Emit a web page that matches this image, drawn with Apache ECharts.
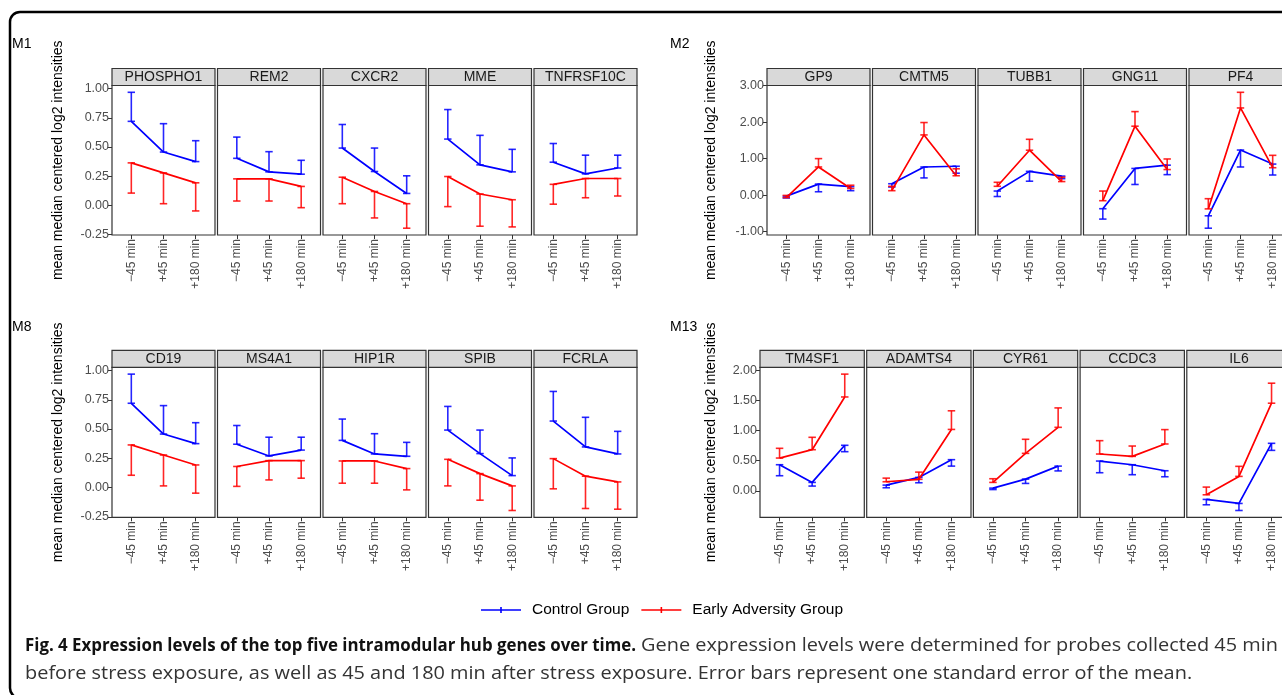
<!DOCTYPE html>
<html><head><meta charset="utf-8">
<script src="https://cdn.jsdelivr.net/npm/echarts@6/dist/echarts.min.js"></script>
<style>
html,body{margin:0;padding:0;background:#fff;}
#wrap{position:relative;width:1282px;height:695px;overflow:hidden;background:#fff;}
#chart{position:absolute;left:0;top:0;width:1282px;height:695px;}
.cap{position:absolute;white-space:nowrap;font-family:'Open Sans',sans-serif;font-size:18px;line-height:18px;color:#333;transform-origin:0 0;}
</style></head>
<body><div id="wrap"><div id="chart"></div>
<div id="c1b" class="cap" style="font-weight:bold;color:#111;">Fig. 4 Expression levels of the top five intramodular hub genes over time.</div>
<div id="c1r" class="cap">Gene expression levels were determined for probes collected 45 min</div>
<div id="c2" class="cap">before stress exposure, as well as 45 and 180 min after stress exposure. Error bars represent one standard error of the mean.</div>
</div>
<script>
// ---------- data ----------
const timeLabels = ['\u221245 min', '+45 min', '+180 min'];
const groupNames = ['Control Group', 'Early Adversity Group'];

const M1_genes = ['PHOSPHO1', 'REM2', 'CXCR2', 'MME', 'TNFRSF10C'];
const M1_controlMean   = [[0.72, 0.457, 0.375], [0.403, 0.287, 0.267], [0.491, 0.29, 0.102], [0.568, 0.347, 0.287], [0.37, 0.27, 0.32]];
const M1_controlEnd    = [[0.969, 0.70, 0.554], [0.585, 0.46, 0.386], [0.693, 0.491, 0.253], [0.821, 0.60, 0.48], [0.53, 0.43, 0.43]];
const M1_adversityMean = [[0.364, 0.278, 0.193], [0.227, 0.227, 0.162], [0.241, 0.119, 0.014], [0.247, 0.097, 0.048], [0.18, 0.23, 0.23]];
const M1_adversityEnd  = [[0.105, 0.014, -0.048], [0.037, 0.037, -0.02], [0.014, -0.108, -0.196], [-0.011, -0.179, -0.185], [0.01, 0.065, 0.08]];
const M1_ticks = [-0.25, 0, 0.25, 0.5, 0.75, 1];

const M2_genes = ['GP9', 'CMTM5', 'TUBB1', 'GNG11', 'PF4'];
const M2_controlMean   = [[-0.03, 0.30, 0.23], [0.31, 0.77, 0.79], [0.11, 0.65, 0.52], [-0.375, 0.73, 0.82], [-0.57, 1.235, 0.85]];
const M2_controlEnd    = [[-0.08, 0.09, 0.12], [0.22, 0.47, 0.60], [-0.04, 0.38, 0.45], [-0.66, 0.29, 0.56], [-0.91, 0.77, 0.55]];
const M2_adversityMean = [[-0.07, 0.77, 0.18], [0.12, 1.65, 0.53], [0.24, 1.23, 0.37], [-0.155, 1.89, 0.70], [-0.38, 2.39, 0.75]];
const M2_adversityEnd  = [[-0.01, 1.00, 0.27], [0.24, 1.99, 0.72], [0.35, 1.53, 0.49], [0.11, 2.29, 0.99], [-0.10, 2.82, 1.09]];
const M2_ticks = [-1, 0, 1, 2, 3];

const M8_genes = ['CD19', 'MS4A1', 'HIP1R', 'SPIB', 'FCRLA'];
const M8_controlMean   = [[0.72, 0.457, 0.375], [0.37, 0.27, 0.32], [0.403, 0.287, 0.267], [0.491, 0.29, 0.102], [0.568, 0.347, 0.287]];
const M8_controlEnd    = [[0.969, 0.70, 0.554], [0.53, 0.43, 0.43], [0.585, 0.46, 0.386], [0.693, 0.491, 0.253], [0.821, 0.60, 0.48]];
const M8_adversityMean = [[0.364, 0.278, 0.193], [0.18, 0.23, 0.23], [0.227, 0.227, 0.162], [0.241, 0.119, 0.014], [0.247, 0.097, 0.048]];
const M8_adversityEnd  = [[0.105, 0.014, -0.048], [0.01, 0.065, 0.08], [0.037, 0.037, -0.02], [0.014, -0.108, -0.196], [-0.011, -0.179, -0.185]];
const M8_ticks = [-0.25, 0, 0.25, 0.5, 0.75, 1];

const M13_genes = ['TM4SF1', 'ADAMTS4', 'CYR61', 'CCDC3', 'IL6'];
const M13_controlMean   = [[0.433, 0.139, 0.756], [0.094, 0.222, 0.517], [0.044, 0.194, 0.41], [0.494, 0.433, 0.333], [-0.144, -0.211, 0.789]];
const M13_controlEnd    = [[0.25, 0.078, 0.65], [0.05, 0.133, 0.41], [0.02, 0.122, 0.33], [0.30, 0.267, 0.233], [-0.233, -0.328, 0.672]];
const M13_adversityMean = [[0.544, 0.683, 1.56], [0.15, 0.19, 1.02], [0.139, 0.622, 1.055], [0.611, 0.572, 0.778], [-0.067, 0.239, 1.456]];
const M13_adversityEnd  = [[0.706, 0.889, 1.94], [0.21, 0.31, 1.33], [0.20, 0.856, 1.378], [0.833, 0.744, 1.017], [0.061, 0.406, 1.789]];
const M13_ticks = [0, 0.5, 1, 1.5, 2];

// ---------- layout ----------
const FONT = 'Liberation Sans';
const BLUE = '#0000ff', RED = '#ff0000';
const modules = [
  {name: 'M1', genes: M1_genes, cm: M1_controlMean, ce: M1_controlEnd, am: M1_adversityMean, ae: M1_adversityEnd, ticks: M1_ticks,
   labelX: 12, labelY: 44, titleX: 58, left: 112, w: 103, step: 105.5, top: 85.5, h: 149.5},
  {name: 'M2', genes: M2_genes, cm: M2_controlMean, ce: M2_controlEnd, am: M2_adversityMean, ae: M2_adversityEnd, ticks: M2_ticks,
   labelX: 670, labelY: 44, titleX: 711, left: 767, w: 103, step: 105.5, top: 85.5, h: 149.5},
  {name: 'M8', genes: M8_genes, cm: M8_controlMean, ce: M8_controlEnd, am: M8_adversityMean, ae: M8_adversityEnd, ticks: M8_ticks,
   labelX: 12, labelY: 327, titleX: 58, left: 112, w: 103, step: 105.5, top: 367.3, h: 150},
  {name: 'M13', genes: M13_genes, cm: M13_controlMean, ce: M13_controlEnd, am: M13_adversityMean, ae: M13_adversityEnd, ticks: M13_ticks,
   labelX: 670, labelY: 327, titleX: 711, left: 760, w: 104.3, step: 106.7, top: 367.3, h: 150}
];

function errRender(params, api) {
  const x = api.value(0), y0 = api.value(1), y1 = api.value(2);
  const p0 = api.coord([x, y0]), p1 = api.coord([x, y1]);
  const hw = api.coord([x + 0.115, y0])[0] - p0[0];
  const style = {stroke: api.visual('color'), lineWidth: 1.6, opacity: 0.85};
  return {type: 'group', children: [
    {type: 'line', shape: {x1: p0[0], y1: p0[1], x2: p1[0], y2: p1[1]}, style},
    {type: 'line', shape: {x1: p0[0] - hw, y1: p0[1], x2: p0[0] + hw, y2: p0[1]}, style},
    {type: 'line', shape: {x1: p1[0] - hw, y1: p1[1], x2: p1[0] + hw, y2: p1[1]}, style}
  ]};
}

const grids = [], xAxes = [], yAxes = [], series = [], graphics = [];

graphics.push({type: 'rect', shape: {x: 10, y: 12, width: 1400, height: 686, r: 10},
  style: {fill: 'none', stroke: '#000', lineWidth: 2.5}, z: 100});

modules.forEach(mod => {
  const all = [].concat(...mod.cm, ...mod.ce, ...mod.am, ...mod.ae);
  const lo = Math.min(...all), hi = Math.max(...all), r = hi - lo;
  const ymin = lo - 0.05 * r, ymax = hi + 0.05 * r;

  graphics.push({type: 'text', x: mod.labelX, y: mod.labelY,
    style: {text: mod.name, fontSize: 14, fontFamily: FONT, fill: '#000', verticalAlign: 'middle', align: 'left'}});
  graphics.push({type: 'text', x: mod.titleX, y: mod.top + mod.h / 2, rotation: Math.PI / 2,
    style: {text: 'mean median centered log2 intensities', fontSize: 14, fontFamily: FONT, fill: '#000', align: 'center', verticalAlign: 'middle'}});

  mod.genes.forEach((gene, i) => {
    const idx = grids.length;
    const left = mod.left + i * mod.step;
    grids.push({left: left, top: mod.top, width: mod.w, height: mod.h, show: true,
      borderColor: '#333333', borderWidth: 1.2, backgroundColor: '#ffffff', containLabel: false, outerBoundsMode: 'none'});
    xAxes.push({gridIndex: idx, type: 'value', min: 0.4, max: 3.6, position: 'bottom',
      axisLine: {show: false, onZero: false}, splitLine: {show: false},
      axisTick: {show: true, customValues: [1, 2, 3], length: 4, lineStyle: {color: '#333'}},
      axisLabel: {customValues: [1, 2, 3], rotate: 90, margin: 4, color: '#4d4d4d', fontSize: 12, fontFamily: FONT,
        formatter: v => timeLabels[Math.round(v) - 1]}});
    yAxes.push({gridIndex: idx, type: 'value', min: ymin, max: ymax, position: 'left',
      axisLine: {show: false, onZero: false}, splitLine: {show: false},
      axisTick: {show: i === 0, customValues: mod.ticks, length: 4, lineStyle: {color: '#333'}},
      axisLabel: {show: i === 0, customValues: mod.ticks, margin: 3, color: '#4d4d4d', fontSize: 12.5, fontFamily: FONT,
        formatter: v => v.toFixed(2)}});

    const groups = [
      {name: groupNames[0], color: BLUE, mean: mod.cm[i], end: mod.ce[i]},
      {name: groupNames[1], color: RED, mean: mod.am[i], end: mod.ae[i]}
    ];
    groups.forEach((g, gi) => {
      series.push({type: 'line', name: g.name, xAxisIndex: idx, yAxisIndex: idx,
        data: g.mean.map((v, k) => [k + 1, v]), symbol: 'none', z: 3 + gi,
        lineStyle: {color: g.color, width: 1.7}, itemStyle: {color: g.color}, animation: false});
      series.push({type: 'custom', name: g.name, xAxisIndex: idx, yAxisIndex: idx,
        data: g.mean.map((v, k) => [k + 1, v, g.end[k]]), encode: {x: 0, y: [1, 2]},
        renderItem: errRender, itemStyle: {color: g.color}, z: 3 + gi, clip: false, animation: false});
    });

    graphics.push({type: 'rect', shape: {x: left, y: mod.top - 17, width: mod.w, height: 17},
      style: {fill: '#d9d9d9', stroke: '#333333', lineWidth: 1.2}});
    graphics.push({type: 'text', x: left + mod.w / 2, y: mod.top - 8.2,
      style: {text: gene, fontSize: 14, fontFamily: FONT, fill: '#1a1a1a', align: 'center', verticalAlign: 'middle'}});
  });
});

const chart = echarts.init(document.getElementById('chart'));
chart.setOption({
  animation: false,
  grid: grids, xAxis: xAxes, yAxis: yAxes, series: series,
  graphic: {elements: graphics},
  legend: {
    data: groupNames.map(n => ({name: n, icon: 'path://M0,2.2 L40,2.2 L40,3.8 L0,3.8 Z M19.2,0 L20.8,0 L20.8,6 L19.2,6 Z'})),
    left: 476, top: 597, itemWidth: 40, itemHeight: 6, itemGap: 12, selectedMode: false,
    textStyle: {fontSize: 15.5, fontFamily: FONT, color: '#000', padding: [0, 0, 0, 6]}
  }
});

// ---------- caption fitting ----------
function place(id, left, baseline, targetW) {
  const el = document.getElementById(id);
  el.style.left = left + 'px';
  el.style.top = (baseline - 16) + 'px';
  if (targetW) {
    const w = el.getBoundingClientRect().width;
    el.style.transform = 'scaleX(' + (targetW / w) + ')';
    return targetW / w;
  }
  return 1;
}
place('c1b', 25, 651, 611);
const s = place('c1r', 641, 651, 637);
const el2 = document.getElementById('c2');
el2.style.left = '25px'; el2.style.top = (679 - 16) + 'px';
el2.style.transform = 'scaleX(' + s + ')';
</script>
</body></html>
